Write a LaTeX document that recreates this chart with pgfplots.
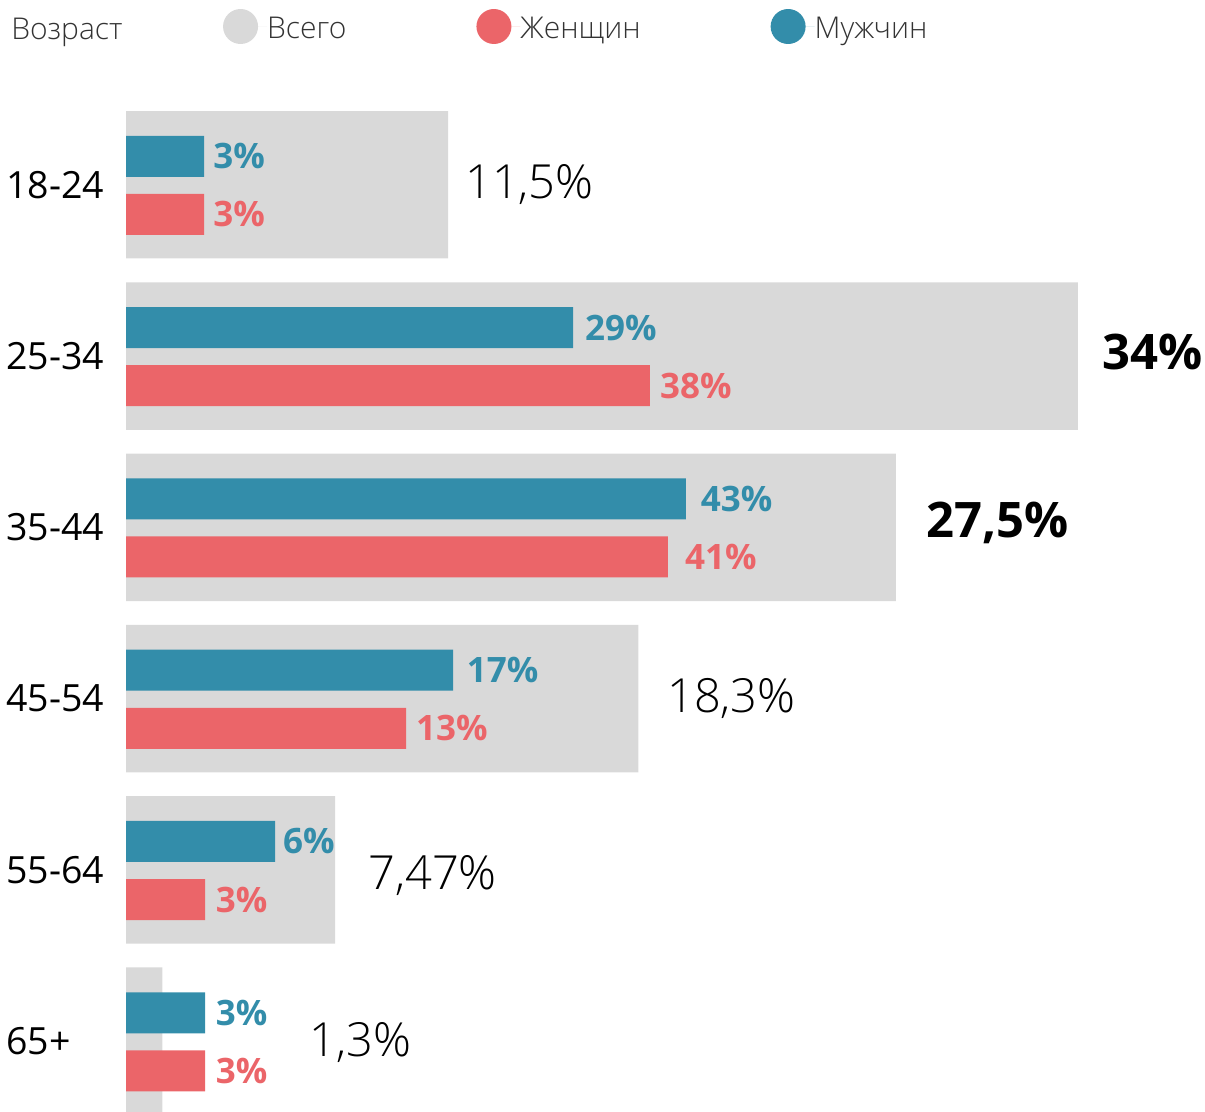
\documentclass[border=0pt]{standalone}
\usepackage{pgfplots}
\usepackage{pgfplotstable}
\pgfplotsset{compat=1.18}
\usepackage{fontspec}
\setmainfont{Open Sans}
\newfontfamily\lightfont{Open Sans Light}
\definecolor{grayc}{HTML}{D9D9D9}
\definecolor{tealc}{HTML}{338DAA}
\definecolor{redc}{HTML}{EB6569}
\definecolor{txt}{HTML}{333333}

\pgfplotstableread{
x y
11.5 0
34 1
27.5 2
18.3 3
7.47 4
1.3 5
}\totalTable

\pgfplotstableread{
x y lab dx
2.786 0.173 3 9
18.714 1.173 38 10
19.357 2.173 41 17
10.0 3.173 13 10
2.821 4.173 3 10.7
2.821 5.173 3 10.7
}\womenTable

\pgfplotstableread{
x y lab dx
2.786 -0.166 3 9
15.964 0.834 29 12
20.0 1.834 43 14.7
11.679 2.834 17 13.7
5.321 3.834 6 8
2.821 4.834 3 10.7
}\menTable

\begin{document}
\begin{tikzpicture}
\begin{axis}[
  scale only axis, width=1205pt, height=1112pt,
  xmin=-4.5, xmax=38.5357,
  ymin=-1.07862, ymax=5.41178, y dir=reverse,
  axis line style={draw=none}, major tick length=0pt,
  xtick=\empty, ytick={0,1,2,3,4,5},
  yticklabels={18-24,25-34,35-44,45-54,55-64,65+},
  yticklabel style={anchor=west, inner sep=0pt, xshift=6pt, font=\fontsize{37.5}{40}\selectfont, text=black},
  clip mode=individual,
  legend columns=-1, legend cell align=left,
  legend style={at={(axis description cs:0.18506,0.97617)}, anchor=west, draw=none, fill=none,
    inner sep=0pt, outer sep=0pt, font=\lightfont\fontsize{30}{32}\selectfont, text=txt,
    nodes={inner sep=0pt, yshift=-2pt},
    /tikz/every even column/.append style={column sep=130pt}},
]
\addplot[xbar, bar width=147.5pt, bar shift=0pt, fill=grayc, draw=none,
  legend image code/.code={\fill[grayc] (17.5pt,0pt) circle (17.5pt); \path (0pt,0pt) -- (44pt,0pt);}]
  table[x=x, y=y] \totalTable;
\addlegendentry{Всего}
\addplot[xbar, bar width=41pt, bar shift=0pt, fill=redc, draw=none,
  legend image code/.code={\fill[redc] (17.5pt,0pt) circle (17.5pt); \path (0pt,0pt) -- (44pt,0pt);},
  point meta=explicit symbolic, nodes near coords={\pgfplotspointmeta\%},
  visualization depends on={\thisrow{dx} \as \dx},
  every node near coord/.append style={font=\bfseries\fontsize{35}{36}\selectfont, text=redc, anchor=west, inner sep=0pt, xshift=\dx pt}]
  table[x=x, y=y, meta=lab] \womenTable;
\addlegendentry{Женщин}
\addplot[xbar, bar width=41pt, bar shift=0pt, fill=tealc, draw=none,
  legend image code/.code={\fill[tealc] (17.5pt,0pt) circle (17.5pt); \path (0pt,0pt) -- (44pt,0pt);},
  point meta=explicit symbolic, nodes near coords={\pgfplotspointmeta\%},
  visualization depends on={\thisrow{dx} \as \dx},
  every node near coord/.append style={font=\bfseries\fontsize{35}{36}\selectfont, text=tealc, anchor=west, inner sep=0pt, xshift=\dx pt}]
  table[x=x, y=y, meta=lab] \menTable;
\addlegendentry{Мужчин}

\path (axis description cs:0,0) rectangle (axis description cs:1,1);
\node[anchor=base west, inner sep=0pt, font=\lightfont\fontsize{30}{32}\selectfont, text=txt]
  at (axis description cs:0.00913,0.96466) {Возраст};

\node[anchor=base west, inner sep=0pt, yshift=-16.8pt, font=\lightfont\fontsize{47}{50}\selectfont] at (axis cs:12.107,-0.019) {11,5\%};
\node[anchor=base west, inner sep=0pt, yshift=-17.5pt, font=\bfseries\fontsize{49}{52}\selectfont] at (axis cs:34.857,0.979) {34\%};
\node[anchor=base west, inner sep=0pt, yshift=-17.5pt, font=\bfseries\fontsize{49}{52}\selectfont] at (axis cs:28.571,1.956) {27,5\%};
\node[anchor=base west, inner sep=0pt, yshift=-16.8pt, font=\lightfont\fontsize{47}{50}\selectfont] at (axis cs:19.321,2.982) {18,3\%};
\node[anchor=base west, inner sep=0pt, yshift=-16.8pt, font=\lightfont\fontsize{47}{50}\selectfont] at (axis cs:8.643,4.014) {7,47\%};
\node[anchor=base west, inner sep=0pt, yshift=-16.8pt, font=\lightfont\fontsize{47}{50}\selectfont] at (axis cs:6.536,4.989) {1,3\%};
\end{axis}
\end{tikzpicture}
\end{document}
